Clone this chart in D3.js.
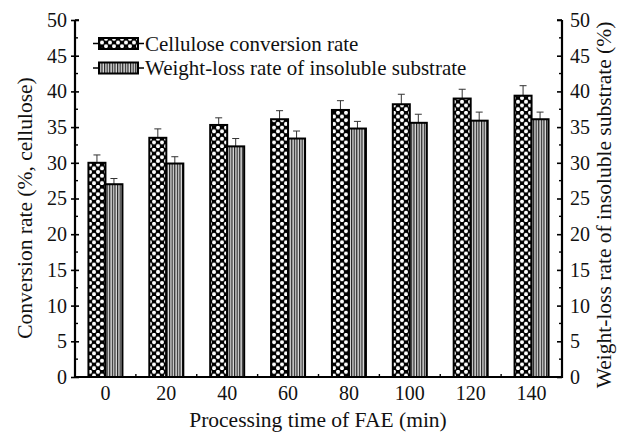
<!DOCTYPE html>
<html>
<head>
<meta charset="utf-8">
<script src="https://cdn.jsdelivr.net/npm/d3@7"></script>
<style>
  body { margin: 0; background: #fff; }
  text { font-family: "Liberation Serif", "Times New Roman", serif; fill: #111; }
</style>
</head>
<body>
<svg id="chart" width="630" height="432"></svg>
<script>
// data
var times = [0, 20, 40, 60, 80, 100, 120, 140];
var conversion = [30.0, 33.5, 35.3, 36.1, 37.4, 38.2, 39.0, 39.4];
var conversionErr = [1.1, 1.25, 1.0, 1.2, 1.3, 1.4, 1.3, 1.4];
var weightLoss = [27.0, 29.9, 32.3, 33.4, 34.8, 35.6, 35.9, 36.1];
var weightLossErr = [0.8, 0.95, 1.1, 1.05, 1.0, 1.2, 1.2, 1.0];
var yTicks = [0, 5, 10, 15, 20, 25, 30, 35, 40, 45, 50];
var seriesNames = ["Cellulose conversion rate", "Weight-loss rate of insoluble substrate"];

var svg = d3.select("#chart");
var plotLeft = 75, plotRight = 562, plotTop = 20, plotBottom = 377;

var x = d3.scaleBand().domain(times).range([plotLeft, plotRight]);
var y = d3.scaleLinear().domain([0, 50]).range([plotBottom, plotTop]);
var barW = 17;

// patterns
var defs = svg.append("defs");
var p1 = defs.append("pattern").attr("id", "dots")
	.attr("patternUnits", "userSpaceOnUse").attr("width", 8).attr("height", 7.4);
p1.append("rect").attr("width", 8).attr("height", 7.4).attr("fill", "#000");
p1.append("circle").attr("cx", 2).attr("cy", 1.85).attr("r", 2).attr("fill", "#fff");
p1.append("circle").attr("cx", 6).attr("cy", 5.55).attr("r", 2).attr("fill", "#fff");

var p2 = defs.append("pattern").attr("id", "stripes")
	.attr("patternUnits", "userSpaceOnUse").attr("width", 2.6).attr("height", 4);
p2.append("rect").attr("width", 2.6).attr("height", 4).attr("fill", "#ddd");
p2.append("rect").attr("width", 1.2).attr("height", 4).attr("fill", "#222");

var series = [
	{ values: conversion, err: conversionErr, fill: "url(#dots)", dx: -barW },
	{ values: weightLoss, err: weightLossErr, fill: "url(#stripes)", dx: 0 }
];

// error bars (upper only)
series.forEach(function(s) {
	var g = svg.append("g").attr("stroke", "#333").attr("stroke-width", 1);
	times.forEach(function(t, i) {
		var cx = x(t) + x.bandwidth() / 2 + s.dx + barW / 2;
		var yTop = y(s.values[i] + s.err[i]);
		g.append("line").attr("x1", cx).attr("x2", cx)
			.attr("y1", y(s.values[i])).attr("y2", yTop);
		g.append("line").attr("x1", cx - 3.5).attr("x2", cx + 3.5)
			.attr("y1", yTop).attr("y2", yTop);
	});
});

// bars
series.forEach(function(s) {
	svg.append("g").selectAll("rect")
		.data(times)
		.join("rect")
		.attr("x", function(t) { return x(t) + x.bandwidth() / 2 + s.dx; })
		.attr("y", function(t, i) { return y(s.values[i]); })
		.attr("width", barW)
		.attr("height", function(t, i) { return plotBottom - y(s.values[i]); })
		.attr("fill", s.fill)
		.attr("stroke", "#000")
		.attr("stroke-width", 2);
});

// axes
var minor = d3.range(2.5, 50, 5);
var leftAxis = svg.append("g").attr("transform", "translate(" + plotLeft + ",0)")
	.call(d3.axisLeft(y).tickValues(yTicks).tickSize(4).tickPadding(4).tickFormat(d3.format("d")));
leftAxis.selectAll(".tick line").attr("x2", -4).attr("x1", 4);
var rightAxis = svg.append("g").attr("transform", "translate(" + plotRight + ",0)")
	.call(d3.axisRight(y).tickValues(yTicks).tickSize(-5).tickPadding(8).tickFormat(d3.format("d")));
[leftAxis, rightAxis].forEach(function(a) {
	a.select(".domain").remove();
	a.selectAll(".tick line").attr("stroke", "#000").attr("stroke-width", 1.6);
	a.selectAll("text").style("font-size", "20px").style("font-family", "Liberation Serif");
});
var minorG = svg.append("g").attr("stroke", "#000").attr("stroke-width", 1.4);
minor.forEach(function(v) {
	minorG.append("line").attr("x1", plotLeft).attr("x2", plotLeft + 3).attr("y1", y(v)).attr("y2", y(v));
	minorG.append("line").attr("x1", plotRight).attr("x2", plotRight - 3).attr("y1", y(v)).attr("y2", y(v));
});
// bottom minor ticks at category boundaries
times.slice(1).forEach(function(t) {
	minorG.append("line").attr("x1", x(t)).attr("x2", x(t)).attr("y1", plotBottom).attr("y2", plotBottom - 3);
});

svg.append("g").attr("transform", "translate(0," + plotBottom + ")")
	.call(d3.axisBottom(x).tickSize(0).tickPadding(9))
	.call(function(g) {
		g.select(".domain").remove();
		g.selectAll("text").style("font-size", "20px").style("font-family", "Liberation Serif");
	});

svg.append("path")
	.attr("d", "M" + plotLeft + "," + plotTop + " V" + plotBottom + " H" + plotRight + " V" + plotTop)
	.attr("fill", "none").attr("stroke", "#000").attr("stroke-width", 2.2);
// top end caps of the y axes
svg.append("line").attr("x1", plotLeft).attr("x2", plotLeft + 4).attr("y1", plotTop).attr("y2", plotTop)
	.attr("stroke", "#000").attr("stroke-width", 1.6);
svg.append("line").attr("x1", plotRight).attr("x2", plotRight - 5).attr("y1", plotTop).attr("y2", plotTop)
	.attr("stroke", "#000").attr("stroke-width", 1.6);

// titles
svg.append("text").attr("transform", "translate(32,208) rotate(-90)")
	.attr("text-anchor", "middle").style("font-size", "21.5px").text("Conversion rate (%, cellulose)");
svg.append("text").attr("transform", "translate(611,205) rotate(-90)")
	.attr("text-anchor", "middle").style("font-size", "21.5px")
	.text("Weight-loss rate of insoluble substrate (%)");
svg.append("text").attr("x", 318).attr("y", 427)
	.attr("text-anchor", "middle").style("font-size", "21.5px").text("Processing time of FAE (min)");

// legend
var legend = svg.append("g");
seriesNames.forEach(function(name, i) {
	var cy = 43.5 + i * 24.5;
	legend.append("line").attr("x1", 93).attr("x2", 144).attr("y1", cy).attr("y2", cy)
		.attr("stroke", "#000").attr("stroke-width", 1.6);
	legend.append("rect").attr("x", 99).attr("y", cy - 5.5).attr("width", 39).attr("height", 11)
		.attr("fill", series[i].fill).attr("stroke", "#000").attr("stroke-width", 2);
	legend.append("text").attr("x", 145).attr("y", cy + 7).style("font-size", "21px").text(name);
});
</script>
</body>
</html>
